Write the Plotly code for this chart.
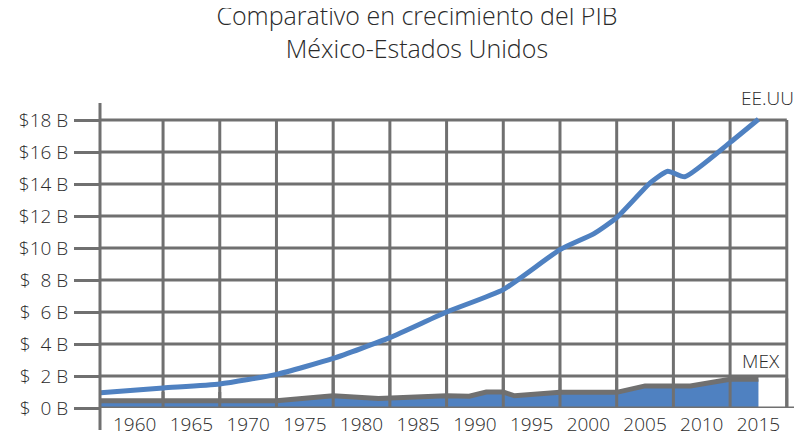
import plotly.graph_objects as go

# PIB
us_years = [1957, 1962.5, 1967.5, 1972.5, 1977.5, 1982.5, 1987.5, 1992.5, 1997.5,
            2000.5, 2002.5, 2005.5, 2007, 2008.5, 2012.5, 2015]
us_gdp = [0.95, 1.25, 1.5, 2.1, 3.1, 4.4, 6.0, 7.4, 9.9,
          10.9, 11.9, 14.1, 14.8, 14.45, 16.6, 18.05]

mex_years = [1957, 1972.5, 1977.5, 1981.5, 1987.5, 1989.5, 1991, 1992.5, 1993.5,
             1997.5, 2002.5, 2005, 2009, 2011, 2012.5, 2015]
mex_gdp = [0.45, 0.45, 0.76, 0.6, 0.76, 0.74, 1.0, 1.0, 0.76,
           0.98, 0.98, 1.38, 1.38, 1.65, 1.8, 1.8]

year_ticks = [1960, 1965, 1970, 1975, 1980, 1985, 1990, 1995, 2000, 2005, 2010, 2015]
grid_years = [1962.5, 1967.5, 1972.5, 1977.5, 1982.5, 1987.5, 1992.5, 1997.5,
              2002.5, 2007.5, 2012.5, 2017.5]
y_ticks = [0, 2, 4, 6, 8, 10, 12, 14, 16, 18]
y_labels = ["$\u00a0\u00a00 B", "$\u00a0\u00a02 B", "$\u00a0\u00a04 B", "$\u00a0\u00a06 B",
            "$\u00a0\u00a08 B", "$10 B", "$12 B", "$14 B", "$16 B", "$18 B"]

BLUE = "#4F81C1"
GRAY = "#707070"
TEXT = "#2a2a2a"
FONT = "Open Sans"

X0, X1 = 1956.94, 2018.84

fig = go.Figure()
fig.add_trace(go.Scatter(x=mex_years, y=mex_gdp, mode="lines", fill="tozeroy",
                         fillcolor=BLUE, line=dict(color=GRAY, width=5),
                         hoverinfo="skip", showlegend=False))
fig.add_trace(go.Scatter(x=us_years, y=us_gdp, mode="lines",
                         line=dict(color=BLUE, width=5, shape="spline", smoothing=0.5),
                         hoverinfo="skip", showlegend=False))

# rejilla
for v in y_ticks[1:]:
    fig.add_shape(type="line", xref="paper", x0=0, x1=(2017.5 - X0) / (X1 - X0),
                  y0=v, y1=v, line=dict(color=GRAY, width=3), layer="below")
for g in grid_years:
    fig.add_shape(type="line", x0=g, x1=g, y0=0, y1=18,
                  line=dict(color=GRAY, width=3), layer="below")
    # la rejilla vertical pasa por encima del área de México
    top = 1.0 if g < 1970 else 1.85
    fig.add_shape(type="line", x0=g, x1=g, y0=0, y1=top,
                  line=dict(color=GRAY, width=3), layer="above")
# ejes
fig.add_shape(type="line", xref="paper", x0=0, x1=1, y0=0, y1=0,
              line=dict(color=GRAY, width=3), layer="above")
fig.add_shape(type="line", xref="paper", yref="paper", x0=0, x1=0, y0=-0.072, y1=1,
              line=dict(color=GRAY, width=3), layer="above")

fig.add_annotation(x=2015.8, y=18.45, yanchor="bottom", text="EE.UU", showarrow=False,
                   font=dict(size=19, color=TEXT, family=FONT, weight=300))
fig.add_annotation(x=2015.2, y=2.95, text="MEX", showarrow=False,
                   font=dict(size=19, color=TEXT, family=FONT, weight=300))

fig.update_layout(
    width=794, height=424,
    margin=dict(l=92, r=0, t=95, b=24),
    paper_bgcolor="white", plot_bgcolor="white",
    font=dict(family=FONT, color=TEXT, size=19, weight=300),
    title=dict(text="Comparativo en crecimiento del PIB<br>México-Estados Unidos",
               x=0.515, xanchor="center", yref="container", y=0.959, yanchor="top",
               font=dict(size=25, color=TEXT, family=FONT, weight=300)),
    xaxis=dict(range=[X0, X1], tickvals=year_ticks, showgrid=False, automargin=False,
               zeroline=False, showline=False, ticks="", ticklabelstandoff=3,
               tickfont=dict(size=19, family=FONT, weight=300)),
    yaxis=dict(range=[0, 19.0625], tickvals=y_ticks, ticktext=y_labels, automargin=False,
               showgrid=False, zeroline=False, showline=False,
               ticks="outside", ticklen=25, tickwidth=3, tickcolor=GRAY,
               ticklabelstandoff=2,
               tickfont=dict(size=19, family=FONT, weight=300)),
)

fig.write_html("out.html")
